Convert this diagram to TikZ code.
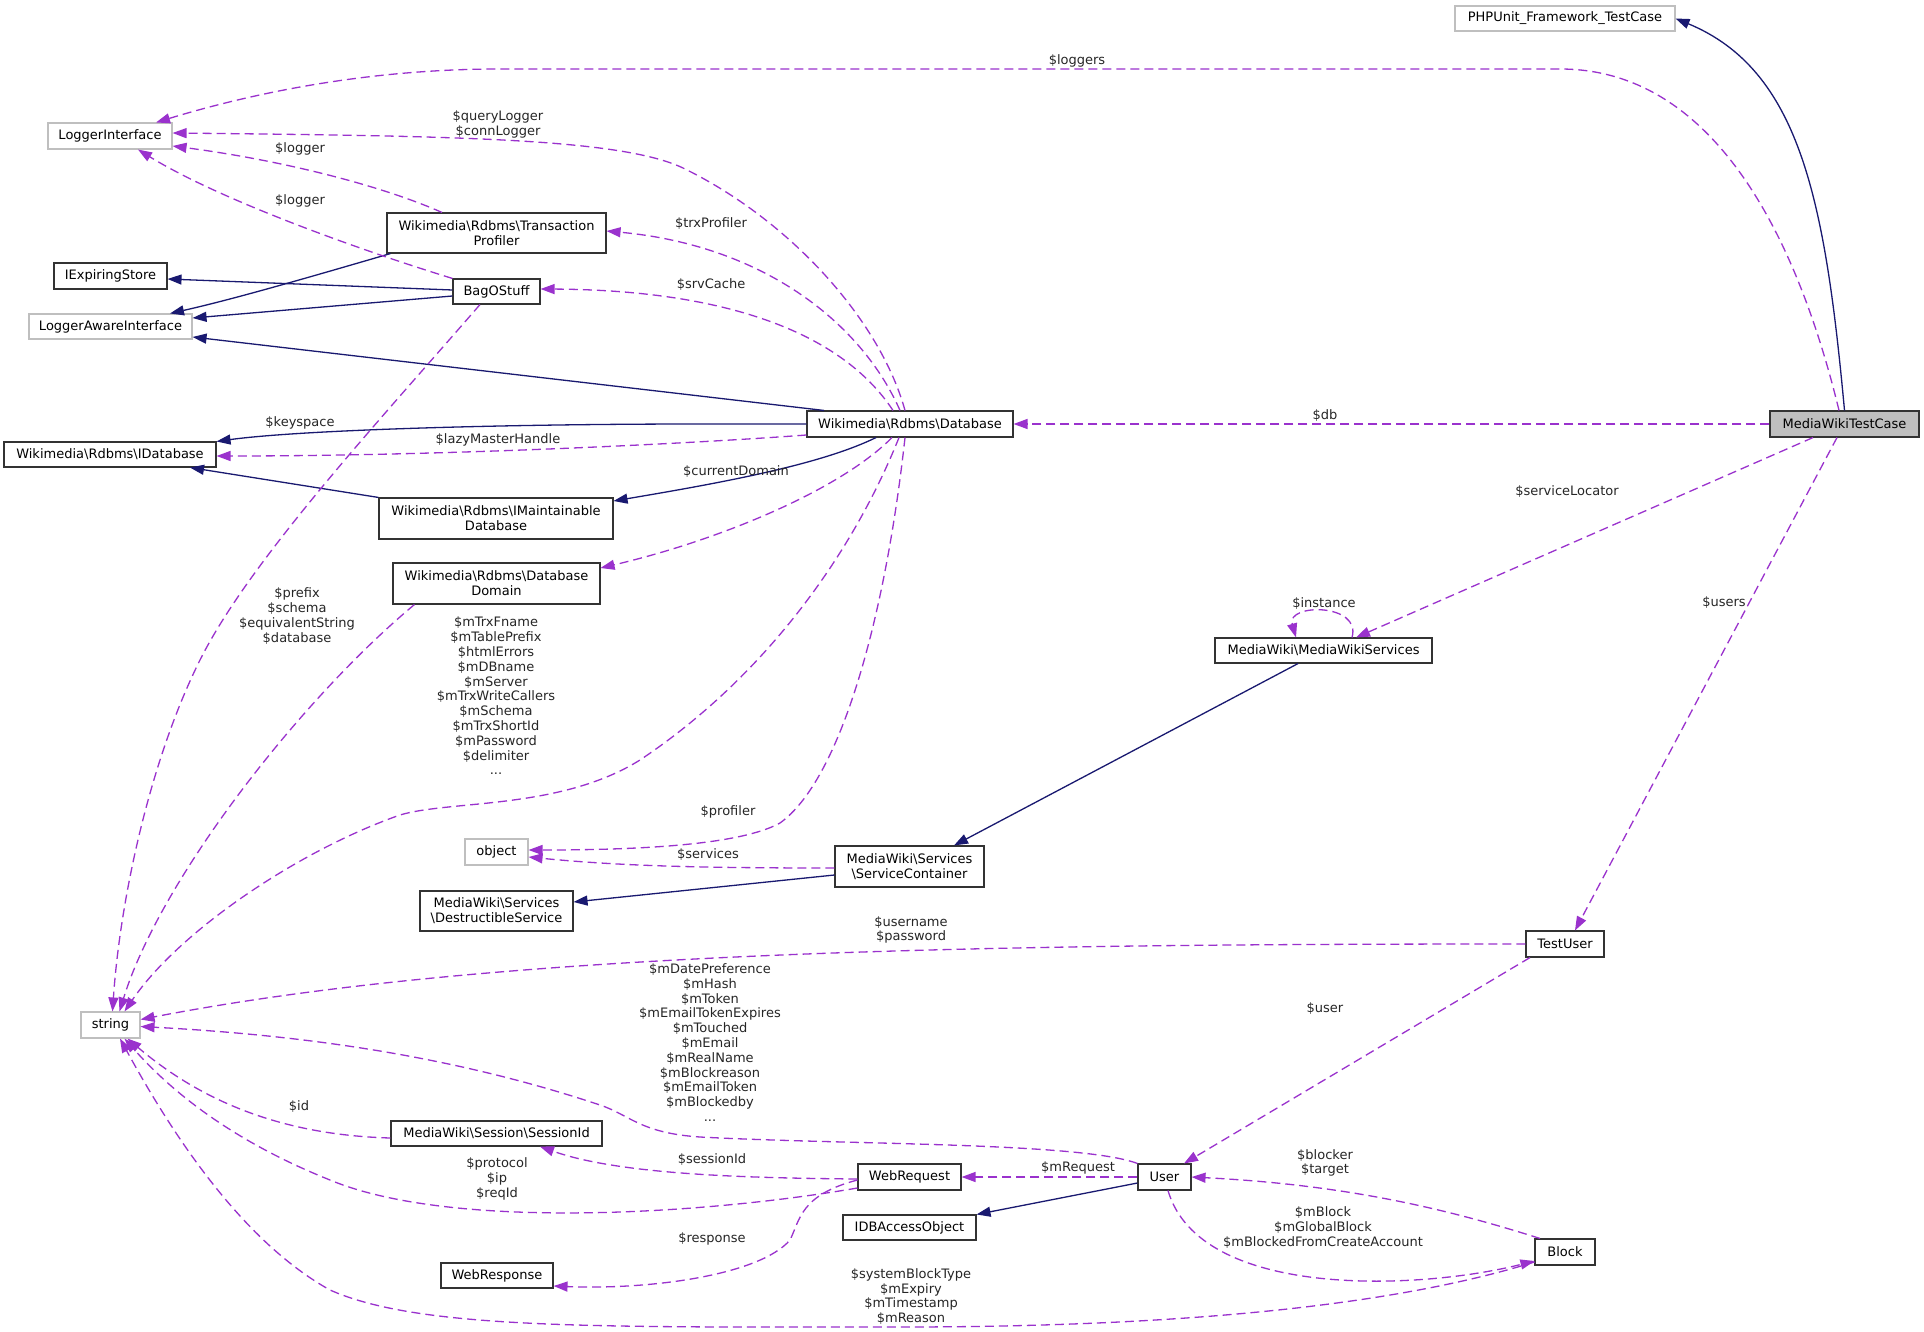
\documentclass[tikz,border=0pt]{standalone}
\usepackage{fontspec}
\setmainfont{DejaVu Sans}
\usetikzlibrary{arrows.meta}
\definecolor{navy}{HTML}{191970}
\definecolor{purp}{HTML}{9A32CD}
\definecolor{extgray}{HTML}{BFBFBF}
\newcommand{\lbl}{\fontsize{13}{14.8}\selectfont}
\newcommand{\bs}{\textbackslash}
\begin{document}
\begin{tikzpicture}[x=1pt,y=-1pt,
  cls/.style={draw=black!80, line width=1.1pt, fill=white, inner sep=0pt, font=\lbl, align=center},
  ext/.style={cls, draw=extgray},
  inh/.style={draw=navy, line width=1.3pt, -{Triangle[length=14pt,width=10pt]}},
  use/.style={draw=purp, line width=1.3pt, dash pattern=on 9pt off 5pt, -{Triangle[length=14pt,width=10pt]}},
  lab/.style={font=\lbl, align=center, inner sep=0pt, text=black!85}]
\fill[white] (0,0) rectangle (1924,1332);
\useasboundingbox (0,0) rectangle (1924,1332);

% nodes
\node[ext, minimum width=220pt, minimum height=25pt] (php) at (1565,18.5) {PHPUnit\_Framework\_TestCase};
\node[ext, minimum width=124pt, minimum height=26pt] (li) at (110,136) {LoggerInterface};
\node[cls, minimum width=219pt, minimum height=40pt] (tp) at (496.5,233) {Wikimedia\bs Rdbms\bs Transaction\\Profiler};
\node[cls, minimum width=113pt, minimum height=26pt] (ies) at (110.5,276) {IExpiringStore};
\node[cls, minimum width=87pt, minimum height=25pt] (bag) at (496.5,291.5) {BagOStuff};
\node[ext, minimum width=163pt, minimum height=25pt] (lai) at (110.5,326.5) {LoggerAwareInterface};
\node[cls, minimum width=206pt, minimum height=26pt] (db) at (910,424) {Wikimedia\bs Rdbms\bs Database};
\node[cls, fill=extgray, minimum width=149pt, minimum height=26pt] (mwtc) at (1844.5,424) {MediaWikiTestCase};
\node[cls, minimum width=212pt, minimum height=25pt] (idb) at (110,454.5) {Wikimedia\bs Rdbms\bs IDatabase};
\node[cls, minimum width=234pt, minimum height=41pt] (imd) at (496,518.5) {Wikimedia\bs Rdbms\bs IMaintainable\\Database};
\node[cls, minimum width=207pt, minimum height=41pt] (dd) at (496.5,583.5) {Wikimedia\bs Rdbms\bs Database\\Domain};
\node[cls, minimum width=217pt, minimum height=25pt] (mws) at (1323.5,650.5) {MediaWiki\bs MediaWikiServices};
\node[ext, minimum width=63pt, minimum height=26pt] (obj) at (496.5,852) {object};
\node[cls, minimum width=149pt, minimum height=41pt] (sc) at (909.5,866.5) {MediaWiki\bs Services\\\bs ServiceContainer};
\node[cls, minimum width=153pt, minimum height=40pt] (ds) at (496.5,911) {MediaWiki\bs Services\\\bs DestructibleService};
\node[cls, minimum width=78pt, minimum height=26pt] (tu) at (1565,944) {TestUser};
\node[ext, minimum width=59pt, minimum height=26pt] (str) at (110.5,1025) {string};
\node[cls, minimum width=211pt, minimum height=25pt] (sid) at (496.5,1133.5) {MediaWiki\bs Session\bs SessionId};
\node[cls, minimum width=103pt, minimum height=26pt] (wr) at (909.5,1177) {WebRequest};
\node[cls, minimum width=53pt, minimum height=26pt] (user) at (1164.5,1177) {User};
\node[cls, minimum width=133pt, minimum height=25pt] (ido) at (909.5,1227.5) {IDBAccessObject};
\node[cls, minimum width=112pt, minimum height=25pt] (wresp) at (497,1275.5) {WebResponse};
\node[cls, minimum width=60pt, minimum height=26pt] (block) at (1565,1252) {Block};

% inheritance
\draw[inh] (mwtc.north) .. controls (1825,200) and (1800,70) .. (php.east);
\draw[inh] ([xshift=-86pt]db.north) -- ([yshift=-10.5pt]lai.east);
\draw[inh] (db.west) -- (700,424) .. controls (500,424) and (300,430) .. (idb.north east);
\draw[inh] ([xshift=-34pt]db.south) .. controls (820,465) and (720,483) .. ([yshift=17.5pt]imd.east);
\draw[inh] (imd.north west) -- ([xshift=80pt]idb.south);
\draw[inh] ([xshift=4pt]tp.south west) .. controls (300,280) and (230,300) .. ([xshift=59.5pt]lai.north);
\draw[inh] ([yshift=1.5pt]bag.west) -- ([yshift=-3pt]ies.east);
\draw[inh] ([yshift=-4.5pt]bag.west) -- ([yshift=8.5pt]lai.east);
\draw[inh] ([xshift=-25.5pt]mws.south) -- ([xshift=44.5pt]sc.north);
\draw[inh] ([yshift=-8.5pt]sc.west) -- ([yshift=9pt]ds.east);
\draw[inh] ([yshift=-6pt]user.west) -- (ido.north east);

% usage
\draw[use] ([xshift=-5.5pt]mwtc.north) .. controls (1800,250) and (1720,69) .. (1560,69) -- (500,69) .. controls (350,69) and (230,100) .. ([xshift=46pt]li.north);
\draw[use] (mwtc.west) -- (db.east);
\draw[use] ([xshift=-31.5pt]mwtc.south) -- ([xshift=32.5pt]mws.north);
\draw[use] ([xshift=-7.5pt]mwtc.south) -- ([xshift=10pt]tu.north);
\draw[use] ([xshift=28.5pt]mws.north) .. controls (1362,603) and (1286,603) .. ([xshift=-27.5pt]mws.north);
\draw[use] ([yshift=-1.5pt]sc.west) .. controls (700,868) and (620,866) .. ([yshift=-5pt]obj.east);
\draw[use] ([xshift=-5pt]db.south) .. controls (885,620) and (840,780) .. (780,823) .. controls (740,845) and (640,850) .. ([yshift=2pt]obj.east);
\draw[use] ([xshift=-11pt]db.south) .. controls (850,560) and (760,680) .. (640,760) .. controls (560,810) and (450,800) .. (400,815) .. controls (300,850) and (180,930) .. ([xshift=14pt]str.north);
\draw[use] ([xshift=-18pt]db.south) .. controls (840,490) and (720,540) .. ([yshift=15.5pt]dd.east);
\draw[use] ([xshift=-10pt]db.north) .. controls (860,320) and (760,245) .. ([yshift=2pt]tp.east);
\draw[use] ([xshift=-17pt]db.north) .. controls (840,330) and (720,290) .. ([yshift=2.5pt]bag.east);
\draw[use] ([xshift=-5pt]db.north) .. controls (880,320) and (790,220) .. (683,168) .. controls (620,138) and (450,136) .. ([yshift=3pt]li.east);
\draw[use] ([yshift=-11pt]db.west) .. controls (700,443) and (450,456) .. ([yshift=-1.5pt]idb.east);
\draw[use] ([xshift=-54.5pt]tp.north) .. controls (380,185) and (280,160) .. ([yshift=-10pt]li.east);
\draw[use] (bag.north west) .. controls (360,250) and (220,200) .. ([xshift=28pt]li.south);
\draw[use] ([xshift=-16.5pt]bag.south) .. controls (380,420) and (250,560) .. (200,660) .. controls (150,760) and (120,900) .. ([xshift=2pt]str.north);
\draw[use] ([xshift=22pt]dd.south west) .. controls (300,700) and (160,880) .. ([xshift=9pt]str.north);
\draw[use] (tu.west) .. controls (1000,944) and (500,950) .. ([yshift=5.5pt]str.east);
\draw[use] ([xshift=-35pt]tu.south) -- ([xshift=19.5pt]user.north);
\draw[use] (user.north west) .. controls (1080,1142) and (850,1145) .. (700,1137) .. controls (640,1133) and (630,1115) .. (600,1105) .. controls (450,1055) and (300,1035) .. ([yshift=-1.5pt]str.east);
\draw[use] (user.west) -- (wr.east);
\draw[use] ([xshift=3.5pt]user.south) .. controls (1200,1300) and (1420,1290) .. ([yshift=-9pt]block.west);
\draw[use] ([xshift=-25pt]block.north) .. controls (1450,1210) and (1350,1185) .. (user.east);
\draw[use] ([yshift=-10pt]block.west) .. controls (1380,1310) and (1150,1327) .. (900,1327) .. controls (600,1327) and (420,1330) .. (330,1290) .. controls (240,1240) and (170,1130) .. ([xshift=9.5pt]str.south);
\draw[use] ([yshift=-4.5pt]sid.west) .. controls (280,1135) and (200,1100) .. ([xshift=17pt]str.south);
\draw[use] ([yshift=-2pt]wr.west) .. controls (750,1178) and (620,1175) .. ([xshift=43.5pt]sid.south);
\draw[use] ([yshift=-11pt]wr.west) .. controls (700,1215) and (450,1230) .. (330,1180) .. controls (230,1140) and (170,1090) .. ([xshift=14pt]str.south);
\draw[use] ([yshift=-3pt]wr.west) .. controls (800,1195) and (800,1220) .. (790,1240) .. controls (760,1275) and (650,1290) .. ([yshift=-10.5pt]wresp.east);

% labels
\node[lab] (l1) at (1077,61) {\$loggers};
\node[lab] (l2) at (498,124.5) {\$queryLogger\\\$connLogger};
\node[lab] (l3) at (300,149) {\$logger};
\node[lab] (l4) at (300,201) {\$logger};
\node[lab] (l5) at (711,224) {\$trxProfiler};
\node[lab] (l6) at (711,285) {\$srvCache};
\node[lab] (l7) at (300,423) {\$keyspace};
\node[lab] (l8) at (498,440) {\$lazyMasterHandle};
\node[lab] (l9) at (1325,416) {\$db};
\node[lab] (l10) at (736,472) {\$currentDomain};
\node[lab] (l11) at (1567,492) {\$serviceLocator};
\node[lab] (l12) at (1324,604) {\$instance};
\node[lab] (l13) at (1724,603) {\$users};
\node[lab] (l14) at (297,616) {\$prefix\\\$schema\\\$equivalentString\\\$database};
\node[lab] (l15) at (496,696) {\$mTrxFname\\\$mTablePrefix\\\$htmlErrors\\\$mDBname\\\$mServer\\\$mTrxWriteCallers\\\$mSchema\\\$mTrxShortId\\\$mPassword\\\$delimiter\\...};
\node[lab] (l16) at (728,812) {\$profiler};
\node[lab] (l17) at (708,855) {\$services};
\node[lab] (l18) at (911,930) {\$username\\\$password};
\node[lab] (l19) at (1325,1009) {\$user};
\node[lab] (l20) at (710,1042.5) {\$mDatePreference\\\$mHash\\\$mToken\\\$mEmailTokenExpires\\\$mTouched\\\$mEmail\\\$mRealName\\\$mBlockreason\\\$mEmailToken\\\$mBlockedby\\...};
\node[lab] (l21) at (299,1107) {\$id};
\node[lab] (l22) at (712,1160) {\$sessionId};
\node[lab] (l23) at (1325,1163) {\$blocker\\\$target};
\node[lab] (l24) at (1078,1168) {\$mRequest};
\node[lab] (l25) at (497,1179) {\$protocol\\\$ip\\\$reqId};
\node[lab] (l26) at (1323,1227.5) {\$mBlock\\\$mGlobalBlock\\\$mBlockedFromCreateAccount};
\node[lab] (l27) at (712,1239) {\$response};
\node[lab] (l28) at (911,1296.5) {\$systemBlockType\\\$mExpiry\\\$mTimestamp\\\$mReason};
\end{tikzpicture}
\end{document}
